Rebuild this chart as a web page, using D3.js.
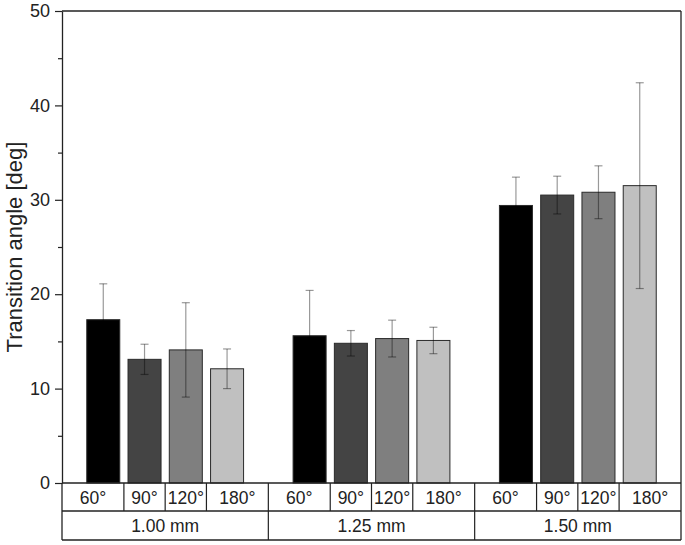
<!DOCTYPE html>
<html>
  <head>
    <script src="https://d3js.org/d3.v7.min.js"></script>
    <style>
      body { margin: 0; background: #fff; }
      text { font-family: "Liberation Sans", Arial, sans-serif; fill: #222; }
    </style>
  </head>
  <body>
    <svg id="chart" width="685" height="545"></svg>
    <script>
      // Chart data
      var groups = ["1.00 mm", "1.25 mm", "1.50 mm"];
      var angles = ["60°", "90°", "120°", "180°"];
      var means = [
        [17.3, 13.1, 14.1, 12.1],
        [15.6, 14.8, 15.3, 15.1],
        [29.4, 30.5, 30.8, 31.5]
      ];
      var errors = [
        [3.8, 1.6, 5.0, 2.1],
        [4.8, 1.35, 1.95, 1.4],
        [3.0, 2.0, 2.8, 10.9]
      ];
      var fills = ["#000000", "#444444", "#7f7f7f", "#c0c0c0"];
      var yTicks = [0, 10, 20, 30, 40, 50];

      var svg = d3.select("#chart");
      // plot frame (top is reserved on window, so use other names)
      var plotLeft = 62, plotRight = 681, plotTop = 11, plotBottom = 483;
      var row1 = 511, row2 = 540;

      // Scales
      var y = d3.scaleLinear().domain([0, 50]).range([plotBottom, plotTop]);
      var xGroup = d3.scaleBand().domain(groups).range([plotLeft, plotRight]);
      var xAngle = d3.scaleBand().domain(angles)
        .range([0, xGroup.bandwidth()])
        .paddingInner(0.2).paddingOuter(0.6);

      // Bars and error bars
      groups.forEach(function(g, gi) {
        var gx = xGroup(g);
        var rows = angles.map(function(a, i) {
          return { angle: a, mean: means[gi][i], err: errors[gi][i], fill: fills[i] };
        });
        var gSel = svg.append("g").attr("transform", "translate(" + gx + ",0)");

        gSel.selectAll("rect")
          .data(rows)
          .enter()
          .append("rect")
          .attr("x", function(d) { return xAngle(d.angle); })
          .attr("y", function(d) { return y(d.mean); })
          .attr("width", xAngle.bandwidth())
          .attr("height", function(d) { return y(0) - y(d.mean); })
          .attr("fill", function(d) { return d.fill; })
          .attr("stroke", "#2a2a2a")
          .attr("stroke-width", 1);

        // translucent black so the part inside a bar gets darker, like the original
        var eb = gSel.selectAll(".err")
          .data(rows)
          .enter()
          .append("g")
          .attr("class", "err")
          .attr("stroke", "#000")
          .attr("stroke-opacity", 0.4)
          .attr("stroke-width", 1.2);
        eb.append("line")
          .attr("x1", function(d) { return xAngle(d.angle) + xAngle.bandwidth() / 2; })
          .attr("x2", function(d) { return xAngle(d.angle) + xAngle.bandwidth() / 2; })
          .attr("y1", function(d) { return y(d.mean + d.err); })
          .attr("y2", function(d) { return y(d.mean - d.err); });
        eb.selectAll(".cap")
          .data(function(d) { return [d.mean + d.err, d.mean - d.err].map(function(v) { return { angle: d.angle, v: v }; }); })
          .enter()
          .append("line")
          .attr("x1", function(d) { return xAngle(d.angle) + xAngle.bandwidth() / 2 - 4; })
          .attr("x2", function(d) { return xAngle(d.angle) + xAngle.bandwidth() / 2 + 4; })
          .attr("y1", function(d) { return y(d.v); })
          .attr("y2", function(d) { return y(d.v); });

        // Table row 1: angle cells, split halfway between bars
        var step = xAngle.step();
        var gap = (step - xAngle.bandwidth()) / 2;
        var bounds = angles.map(function(a, i) {
          var x0 = i === 0 ? 0 : xAngle(a) - gap;
          var x1 = i === angles.length - 1 ? xGroup.bandwidth() : xAngle(a) + xAngle.bandwidth() + gap;
          return { angle: a, x0: x0, x1: x1 };
        });
        gSel.selectAll(".cellLine")
          .data(bounds.slice(1))
          .enter()
          .append("line")
          .attr("x1", function(d) { return d.x0; })
          .attr("x2", function(d) { return d.x0; })
          .attr("y1", plotBottom)
          .attr("y2", row1)
          .attr("stroke", "#222")
          .attr("stroke-width", 1.2);
        gSel.selectAll(".cellText")
          .data(bounds)
          .enter()
          .append("text")
          .attr("x", function(d) { return (d.x0 + d.x1) / 2; })
          .attr("y", (plotBottom + row1) / 2 + 6.5)
          .attr("text-anchor", "middle")
          .attr("font-size", 17.5)
          .text(function(d) { return d.angle; });

        // Table row 2: group label
        gSel.append("text")
          .attr("x", xGroup.bandwidth() / 2)
          .attr("y", (row1 + row2) / 2 + 6.5)
          .attr("text-anchor", "middle")
          .attr("font-size", 17.5)
          .text(g);
      });

      // Group separators through both table rows
      svg.selectAll(".groupLine")
        .data(groups.slice(1))
        .enter()
        .append("line")
        .attr("x1", function(d) { return xGroup(d); })
        .attr("x2", function(d) { return xGroup(d); })
        .attr("y1", plotBottom)
        .attr("y2", row2)
        .attr("stroke", "#222")
        .attr("stroke-width", 1.2);

      // Horizontal table lines
      [plotBottom, row1, row2].forEach(function(yy) {
        svg.append("line")
          .attr("x1", plotLeft).attr("x2", plotRight)
          .attr("y1", yy).attr("y2", yy)
          .attr("stroke", "#222").attr("stroke-width", 1.3);
      });

      // Frame: top, right, left below axis
      svg.append("line").attr("x1", plotLeft).attr("x2", plotRight).attr("y1", plotTop).attr("y2", plotTop)
        .attr("stroke", "#222").attr("stroke-width", 1.3);
      svg.append("line").attr("x1", plotRight).attr("x2", plotRight).attr("y1", plotTop).attr("y2", row2)
        .attr("stroke", "#222").attr("stroke-width", 1.3);
      svg.append("line").attr("x1", plotLeft).attr("x2", plotLeft).attr("y1", plotBottom).attr("y2", row2)
        .attr("stroke", "#222").attr("stroke-width", 1.3);

      // Y axis with minor ticks
      var yAxis = d3.axisLeft(y).tickValues(yTicks).tickSize(7).tickPadding(5).tickSizeOuter(0);
      var ax = svg.append("g").attr("transform", "translate(" + plotLeft + ",0)").call(yAxis);
      ax.select(".domain").attr("stroke", "#222").attr("stroke-width", 1.3);
      ax.selectAll(".tick line").attr("stroke", "#222").attr("stroke-width", 1.2);
      ax.selectAll(".tick text").attr("font-size", 18).attr("font-family", "Liberation Sans, Arial, sans-serif").attr("fill", "#222");
      var minor = d3.axisLeft(y).tickValues([5, 15, 25, 35, 45]).tickSize(4).tickFormat("").tickSizeOuter(0);
      var mx = svg.append("g").attr("transform", "translate(" + plotLeft + ",0)").call(minor);
      mx.select(".domain").remove();
      mx.selectAll(".tick line").attr("stroke", "#222").attr("stroke-width", 1.2);

      // Y axis title
      svg.append("text")
        .attr("transform", "translate(22," + (plotTop + plotBottom) / 2 + ") rotate(-90)")
        .attr("text-anchor", "middle")
        .attr("font-size", 22)
        .text("Transition angle [deg]");
    </script>
  </body>
</html>
